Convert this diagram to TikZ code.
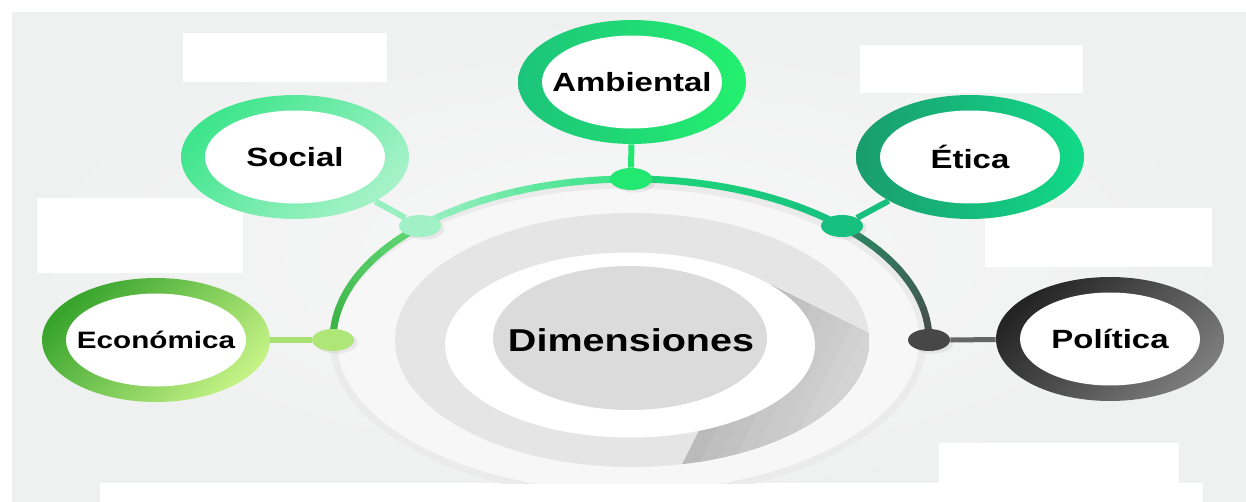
\documentclass[tikz,border=0pt]{standalone}
\usepackage{fontspec}
\usepackage{xcolor}
\usepackage{tikz}
\usetikzlibrary{shapes.geometric,shadows}
\newfontfamily\labelfont{Liberation Sans}[FakeStretch=1.25]

\definecolor{bgedge}{HTML}{EFF0F0}
\definecolor{bgmid}{HTML}{F8F8F8}
\definecolor{ecodark}{HTML}{38A42C}
\definecolor{ecolight}{HTML}{C4F285}
\definecolor{socdark}{HTML}{3EE58C}
\definecolor{soclight}{HTML}{A6F2C8}
\definecolor{ambdark}{HTML}{1CC47A}
\definecolor{amblight}{HTML}{24F06E}
\definecolor{etidark}{HTML}{1A9C6E}
\definecolor{etilight}{HTML}{12DA88}
\definecolor{poldark}{HTML}{242424}
\definecolor{pollight}{HTML}{7C7C7C}
\definecolor{arcA}{HTML}{36AE3E}
\definecolor{arcB}{HTML}{62D878}
\definecolor{arcC}{HTML}{A2F0C6}
\definecolor{arcD}{HTML}{34E283}
\definecolor{arcE}{HTML}{1ED878}
\definecolor{arcF}{HTML}{18C080}
\definecolor{arcG}{HTML}{2A8A68}
\definecolor{arcH}{HTML}{4A4A4A}

\begin{document}
\begin{tikzpicture}[x=0.02cm, y=-0.02cm,
    bubble/.style={ellipse, inner sep=0pt, minimum width=4.56cm, minimum height=2.48cm,
      path picture={\fill[white] (path picture bounding box.center) ellipse [x radius=1.8cm, y radius=0.93cm];},
      font=\labelfont\bfseries\fontsize{15}{18}\selectfont},
    knob/.style={ellipse, inner sep=0pt, minimum width=0.84cm, minimum height=0.44cm,
      drop shadow={opacity=0.12, shadow xshift=2pt, shadow yshift=-1.5pt}},
    stem/.style={line width=0.12cm},
    arcpiece/.style={line width=0.14cm, line cap=round},
    blankbox/.style={fill=white}]
    \useasboundingbox (0,0) rectangle (1246,502);

    % background
    \fill[white] (0,0) rectangle (1246,502);
    \shade[inner color=bgmid, outer color=bgedge] (12,13) rectangle (1246,502);
    \fill[white] (100,483) rectangle (1203,502);

    % empty text boxes
    \fill[blankbox] (183,33) rectangle (387,82);
    \fill[blankbox] (37,198) rectangle (243,273);
    \fill[blankbox] (860,45) rectangle (1083,93);
    \fill[blankbox] (985,208) rectangle (1212,267);
    \fill[blankbox] (939,443) rectangle (1179,483);

    % centre discs
    \begin{scope}
        \clip (0,13) rectangle (1246,483);
        \fill[white!97!black, draw=black!8, line width=0.14cm] (628,340) ellipse [x radius=5.9cm, y radius=3.1cm];
    \end{scope}
    \fill[black!10] (632,340) ellipse [x radius=4.74cm, y radius=2.54cm];
    \begin{scope}
        \clip (632,340) ellipse [x radius=4.74cm, y radius=2.54cm];
        % long shadow, darker close to the disc
        \foreach \k in {0,...,11}{
            \pgfmathsetmacro{\ua}{100+15*\k}
            \pgfmathtruncatemacro{\g}{27-1.4*\k}
            \fill[black!\g] ({630+0.894*\ua+52.3},{345+0.447*\ua-104.6}) -- ({630+0.894*700+52.3},{345+0.447*700-104.6})
                -- ({630+0.894*700-52.3},{345+0.447*700+104.6}) -- ({630+0.894*\ua-52.3},{345+0.447*\ua+104.6}) -- cycle;
        }
    \end{scope}
    \fill[white] (630,345) ellipse [x radius=3.7cm, y radius=1.85cm];
    \fill[black!14] (630,338) ellipse [x radius=2.74cm, y radius=1.44cm];
    \node[font=\labelfont\bfseries\fontsize{18}{22}\selectfont] (dimensiones) at (631,340) {Dimensiones};

    % main arc
    \foreach \ta/\tb/\ca/\cb in {180/135/arcA/arcB, 135/90/arcC/arcD, 90/45/arcE/arcF, 45/0/arcG/arcH}{
        \foreach \i in {1,...,12}{
            \pgfmathsetmacro{\tu}{\ta+(\tb-\ta)*(\i-1)/12}
            \pgfmathsetmacro{\tv}{\ta+(\tb-\ta)*\i/12}
            \pgfmathtruncatemacro{\p}{100*(\i-0.5)/12}
            \draw[arcpiece, draw=\cb!\p!\ca] plot[domain=\tu:\tv, samples=4, smooth] ({631+298*cos(\x)}, {340-161*sin(\x)});
        }
    }

    % outer rings
    \node[bubble, left color=ecodark, right color=ecolight, shading angle=45,
        font=\labelfont\bfseries\fontsize{13.5}{16}\selectfont] (economica) at (156,340) {Económica};
    \node[bubble, left color=socdark, right color=soclight, shading angle=45] (social) at (295,157) {Social};
    \node[bubble, left color=ambdark, right color=amblight, shading angle=90] (ambiental) at (632,82) {Ambiental};
    \node[bubble, left color=etidark, right color=etilight, shading angle=90] (etica) at (970,157) {Ética};
    \node[bubble, left color=poldark, right color=pollight, shading angle=45] (politica) at (1110,339) {Política};

    % dots on the arc
    \node[knob, fill=ecolight!85!ecodark] (ecodot) at (333,340) {};
    \node[knob, fill=arcC] (socdot) at (420,226) {};
    \node[knob, fill=amblight!80!ambdark] (ambdot) at (631,179) {};
    \node[knob, fill=arcF] (etidot) at (842,226) {};
    \node[knob, fill=black!72] (poldot) at (929,340) {};

    \draw[stem, draw=ecolight!80!ecodark] (ecodot) -- (economica);
    \draw[stem, draw=arcC!90!socdark] (socdot) -- (social);
    \draw[stem, draw=amblight!80!ambdark] (ambdot) -- (ambiental);
    \draw[stem, draw=arcF] (etidot) -- (etica);
    \draw[stem, draw=black!60, line width=0.1cm] (poldot) -- (politica);
\end{tikzpicture}
\end{document}
